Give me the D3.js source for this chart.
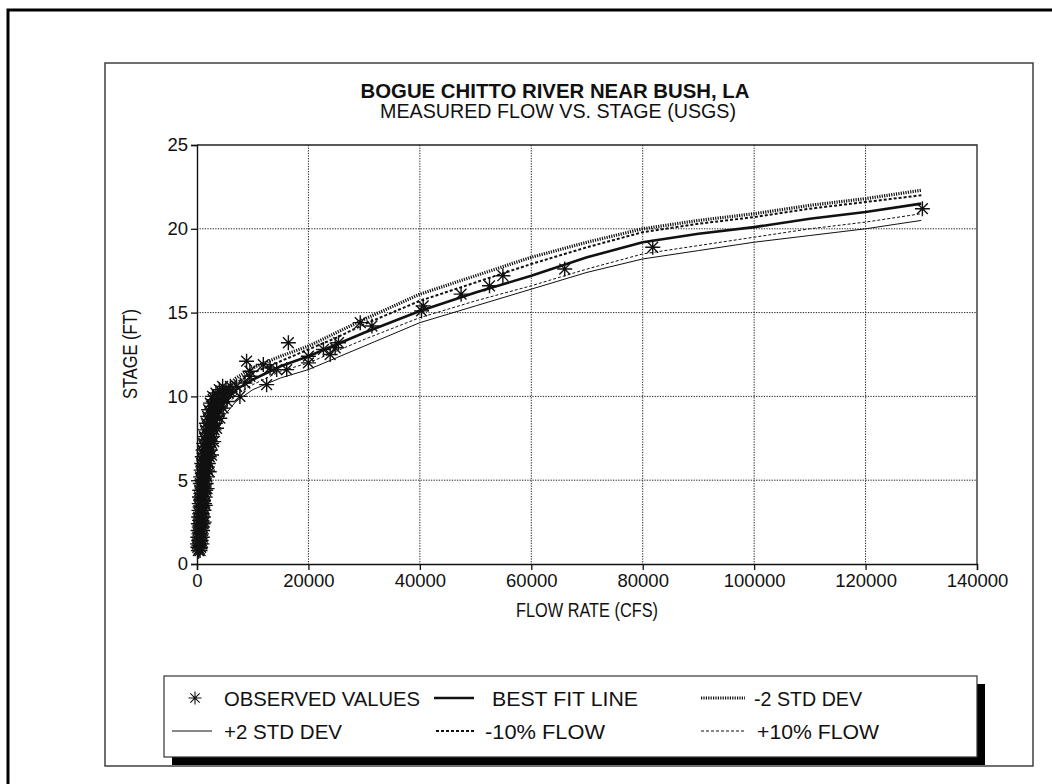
<!DOCTYPE html>
<html>
<head>
<meta charset="utf-8">
<script src="https://cdn.jsdelivr.net/npm/d3@7"></script>
<style>
  html, body { margin: 0; padding: 0; background: #fff; }
  svg { display: block; }
  text { font-family: "Liberation Sans", Arial, Helvetica, sans-serif; fill: #111; }
</style>
</head>
<body>
<svg id="chart" width="1052" height="784"></svg>
<script>
// ---------------- DATA ----------------
const titleText = "BOGUE CHITTO RIVER NEAR BUSH, LA";
const subtitleText = "MEASURED FLOW VS. STAGE (USGS)";
const xAxisTitle = "FLOW RATE (CFS)";
const yAxisTitle = "STAGE (FT)";
const xTicks = [0, 20000, 40000, 60000, 80000, 100000, 120000, 140000];
const yTicks = [0, 5, 10, 15, 20, 25];

// flow points (cfs) at which the fitted curves are drawn
const curveFlow = [300, 600, 1000, 1500, 2000, 3000, 4000, 5000, 7000, 10000, 15000, 20000, 25000, 30000, 40000, 50000, 60000, 70000, 80000, 90000, 100000, 110000, 120000, 130000];
const bestFit     = [0.8, 2.0, 3.5, 5.0, 6.3, 8.0, 9.0, 9.7, 10.4, 11.0, 11.8, 12.4, 13.1, 13.8, 15.1, 16.2, 17.2, 18.3, 19.2, 19.7, 20.1, 20.6, 21.0, 21.5];
const minus2Std   = [1.5, 3.0, 4.6, 6.2, 7.4, 8.9, 9.8, 10.4, 11.1, 11.7, 12.4, 13.0, 13.8, 14.6, 16.1, 17.2, 18.3, 19.2, 20.0, 20.5, 20.9, 21.4, 21.8, 22.3];
const plus2Std    = [0.3, 1.2, 2.5, 4.0, 5.3, 7.2, 8.2, 8.9, 9.7, 10.4, 11.1, 11.6, 12.3, 13.0, 14.4, 15.4, 16.4, 17.4, 18.2, 18.7, 19.2, 19.6, 20.0, 20.5];
const minus10Flow = [1.0, 2.5, 4.0, 5.5, 6.9, 8.5, 9.4, 10.1, 10.8, 11.4, 12.1, 12.8, 13.5, 14.3, 15.7, 16.8, 17.9, 18.9, 19.8, 20.3, 20.7, 21.2, 21.6, 22.0];
const plus10Flow  = [0.6, 1.6, 3.0, 4.5, 5.8, 7.6, 8.6, 9.3, 10.1, 10.7, 11.5, 12.0, 12.7, 13.4, 14.7, 15.7, 16.6, 17.6, 18.5, 19.0, 19.5, 20.0, 20.4, 20.9];

// observed measurements: [flow (cfs), stage (ft)]
const observed = [
  [250,0.8],[550,0.8],[400,0.9],[150,1.0],[650,1.0],[350,1.1],[100,1.2],[550,1.2],[900,1.2],
  [300,1.4],[750,1.4],[150,1.6],[500,1.6],[950,1.6],[350,1.8],[800,1.8],[200,2.0],[600,2.0],[1000,2.0],
  [400,2.2],[850,2.2],[250,2.4],[650,2.4],[1100,2.4],[450,2.6],[900,2.6],[300,2.8],[700,2.8],[1150,2.8],
  [500,3.0],[950,3.0],[350,3.2],[800,3.2],[1250,3.2],[550,3.4],[1050,3.4],[400,3.6],[850,3.6],[1350,3.6],
  [650,3.8],[1150,3.8],[450,4.0],[950,4.0],[1450,4.0],[700,4.2],[1250,4.2],[500,4.4],[1050,4.4],[1550,4.4],
  [800,4.6],[1300,4.6],[600,4.8],[1100,4.8],[1650,4.8],[850,5.0],[1400,5.0],[650,5.2],[1200,5.2],[1750,5.2],
  [950,5.4],[1500,5.4],[750,5.6],[1300,5.6],[1900,5.6],[1050,5.8],[1650,5.8],[850,6.0],[1400,6.0],[2050,6.0],
  [1150,6.2],[1750,6.2],[950,6.4],[1550,6.4],[2200,6.4],[1250,6.6],[1900,6.6],[1100,6.8],[1700,6.8],[2400,6.8],
  [1400,7.0],[2100,7.0],[1200,7.2],[1850,7.2],[2600,7.2],[1550,7.4],[2300,7.4],[1350,7.6],[2050,7.6],[2800,7.6],
  [1700,7.8],[2500,7.8],[1500,8.0],[2250,8.0],[3050,8.0],[1900,8.2],[2700,8.2],[1700,8.4],[2500,8.4],[3300,8.4],
  [2100,8.6],[2950,8.6],[1900,8.8],[2750,8.8],[3600,8.8],[2350,9.0],[3200,9.0],[2100,9.2],[3000,9.2],[3900,9.2],
  [2600,9.4],[3500,9.4],[2400,9.6],[3300,9.6],[4300,9.6],[2900,9.8],[3900,9.8],[2800,10.0],[3800,10.0],[4800,10.0],
  [3400,10.2],[4500,10.2],[5600,10.2],[4000,10.4],[5200,10.4],[4600,10.6],[6000,10.6],
  [1300,2.5],[1500,3.5],[1800,4.5],[2200,5.5],[2600,6.5],[3000,7.3],[3500,8.1],[4100,8.7],[4700,9.3],[5400,9.7],
  [5900,10.3],[7100,10.6],[7700,10.0],[8600,10.8],[9500,11.5],[9500,11.2],[11900,11.9],[12500,10.7],
  [13100,11.7],[14300,11.6],[16100,11.6],[8900,12.1],[16400,13.2],[20000,12.4],[20000,12.0],[22700,12.8],
  [23900,12.5],[24800,12.9],[25400,13.2],[29300,14.4],[31400,14.2],[40300,15.1],[40600,15.4],[47400,16.1],
  [52500,16.6],[54900,17.2],[66000,17.6],[81800,18.9],[130200,21.2]
];

const legendItems = [
  { label: "OBSERVED VALUES", key: "obs",  row: 0, sym: [189, 201], tx: 224, tw: 196 },
  { label: "BEST FIT LINE",   key: "best", row: 0, sym: [434, 474], tx: 492, tw: 146 },
  { label: "-2 STD DEV",      key: "m2",   row: 0, sym: [701, 745], tx: 754, tw: 108 },
  { label: "+2 STD DEV",      key: "p2",   row: 1, sym: [172, 212], tx: 224, tw: 118 },
  { label: "-10% FLOW",       key: "m10",  row: 1, sym: [436, 474], tx: 485, tw: 120 },
  { label: "+10% FLOW",       key: "p10",  row: 1, sym: [701, 745], tx: 757, tw: 122 }
];

// ---------------- STYLES ----------------
const styles = {
  best: { width: 2.6, dash: null },
  m2:   { width: 3.2, dash: "1.2,1.2" },
  p2:   { width: 1.0, dash: null },
  m10:  { width: 2.0, dash: "3,2" },
  p10:  { width: 1.0, dash: "3,2" }
};

const svg = d3.select("#chart");
const ink = "#111";

// outer page frame
svg.append("rect").attr("x", 8).attr("y", 10).attr("width", 1060).attr("height", 800)
  .attr("fill", "none").attr("stroke", "#000").attr("stroke-width", 3);
// chart frame
svg.append("rect").attr("x", 105).attr("y", 63).attr("width", 928).attr("height", 703)
  .attr("fill", "none").attr("stroke", "#333").attr("stroke-width", 1.4);

const x = d3.scaleLinear().domain([0, 140000]).range([197, 977]);
const y = d3.scaleLinear().domain([0, 25]).range([564, 145]);

// gridlines
const grid = svg.append("g").attr("stroke", "#222").attr("stroke-width", 1).attr("stroke-dasharray", "1.3,1.3");
grid.selectAll(".gx").data(xTicks.filter(d => d > 0 && d < 140000)).join("line")
  .attr("x1", d => x(d)).attr("x2", d => x(d)).attr("y1", y(25)).attr("y2", y(0));
grid.selectAll(".gy").data(yTicks.filter(d => d > 0 && d < 25)).join("line")
  .attr("x1", x(0)).attr("x2", x(140000)).attr("y1", d => y(d)).attr("y2", d => y(d));

// plot border top & right
svg.append("path").attr("d", `M${x(0)},${y(25)}H${x(140000)}V${y(0)}`)
  .attr("fill", "none").attr("stroke", "#222").attr("stroke-width", 1.3);

// axes
const yAxis = svg.append("g").attr("transform", `translate(${x(0)},0)`)
  .call(d3.axisLeft(y).tickValues(yTicks).tickSize(6).tickPadding(3).tickFormat(d3.format("d")));
const xAxis = svg.append("g").attr("transform", `translate(0,${y(0)})`)
  .call(d3.axisBottom(x).tickValues(xTicks).tickSize(6).tickPadding(4).tickFormat(d3.format("d")));
[yAxis, xAxis].forEach(a => {
  a.select(".domain").attr("stroke", ink).attr("stroke-width", 1.4);
  a.selectAll(".tick line").attr("stroke", ink).attr("stroke-width", 1.3);
  a.selectAll("text").attr("font-size", 18.5).attr("fill", ink)
    .attr("font-family", "'Liberation Sans', Arial, sans-serif");
});

// curves
const line = d3.line().x(d => x(d[0])).y(d => y(d[1]));
const series = [
  { key: "p2", vals: plus2Std },
  { key: "p10", vals: plus10Flow },
  { key: "m10", vals: minus10Flow },
  { key: "m2", vals: minus2Std },
  { key: "best", vals: bestFit }
];
series.forEach(s => {
  const st = styles[s.key];
  svg.append("path").datum(curveFlow.map((f, i) => [f, s.vals[i]]))
    .attr("d", line).attr("fill", "none").attr("stroke", ink)
    .attr("stroke-width", st.width).attr("stroke-dasharray", st.dash);
});

// asterisk marker
function star(r) {
  const k = r * 0.72;
  return `M${-r},0H${r}M0,${-r}V${r}M${-k},${-k}L${k},${k}M${-k},${k}L${k},${-k}`;
}
svg.append("g").selectAll("path").data(observed).join("path")
  .attr("transform", d => `translate(${x(d[0])},${y(d[1])})`)
  .attr("d", star(7.5)).attr("fill", "none").attr("stroke", ink).attr("stroke-width", 1.4);

// helper for condensed text with a fixed drawn width
function label(parent, txt, xPos, yPos, size, width, anchor, extra) {
  const t = parent.append("text").attr("x", xPos).attr("y", yPos)
    .attr("font-size", size).attr("text-anchor", anchor || "start")
    .attr("textLength", width).attr("lengthAdjust", "spacingAndGlyphs").text(txt);
  if (extra) extra(t);
  return t;
}

// titles
label(svg, titleText, 555, 98, 21, 389, "middle", t => t.attr("font-weight", "bold"));
label(svg, subtitleText, 558, 118, 20, 356, "middle");
label(svg, xAxisTitle, 587, 617, 20, 142, "middle");
label(svg, yAxisTitle, 0, 0, 20, 90, "middle", t => t.attr("transform", "translate(137,354) rotate(-90)"));

// legend
const lg = svg.append("g");
lg.append("rect").attr("x", 172).attr("y", 684).attr("width", 813).attr("height", 81).attr("fill", "#000");
lg.append("rect").attr("x", 164).attr("y", 676).attr("width", 813).attr("height", 81)
  .attr("fill", "#fff").attr("stroke", "#333").attr("stroke-width", 1.2);

const rowY = [698, 731];
legendItems.forEach(item => {
  const cy = rowY[item.row];
  const [a, b] = item.sym;
  if (item.key === "obs") {
    lg.append("path").attr("transform", `translate(${(a + b) / 2},${cy})`)
      .attr("d", star(6.5)).attr("fill", "none").attr("stroke", ink).attr("stroke-width", 1.1);
  } else {
    const st = styles[item.key];
    lg.append("line").attr("x1", a).attr("x2", b).attr("y1", cy).attr("y2", cy)
      .attr("stroke", ink).attr("stroke-width", st.width).attr("stroke-dasharray", st.dash);
  }
  label(lg, item.label, item.tx, cy + 7.5, 21, item.tw, "start");
});
</script>
</body>
</html>
